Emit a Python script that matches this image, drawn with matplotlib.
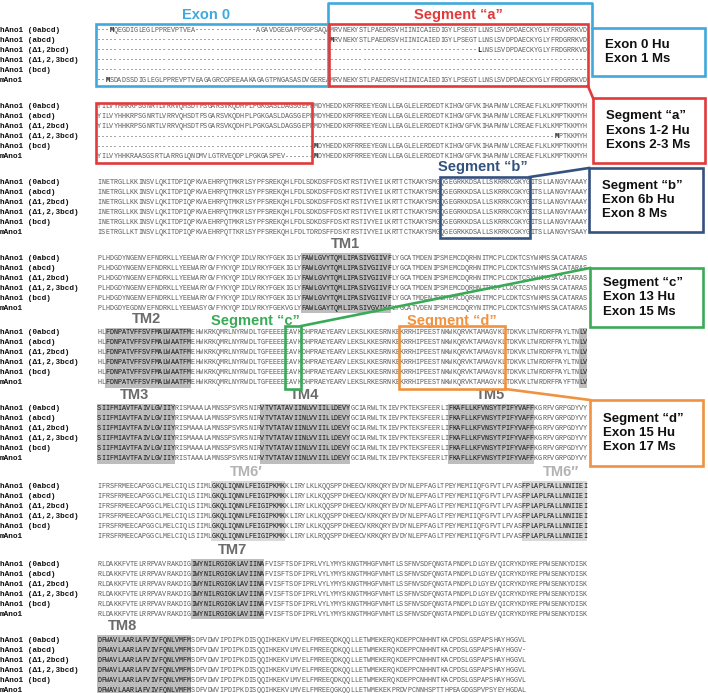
import matplotlib
matplotlib.use("Agg")
import matplotlib.pyplot as plt
from matplotlib.patches import Rectangle

# ---------------- data ----------------
row_labels = ["hAno1 (0abcd)", "hAno1 (abcd)", "hAno1 (\u03941,2bcd)",
              "hAno1 (\u03941,2,3bcd)", "hAno1 (bcd)", "mAno1"]

segA1 = "MRVNEKYSTLPAEDRSVHIINICAIEDIGYLPSEGTLLNSLSVDPDAECKYGLYFRDGRRKVD"
block1 = [
    "---MQEGDIGLEGLPPREVPTVEA---------------AGAVDGEGAPPGGPSAQA" + segA1,
    "-" * 57 + segA1,
    "-" * 93 + "LLNSLSVDPDAECKYGLYFRDGRRKVD",
    "-" * 120,
    "-" * 120,
    "--MSDADSSDIGLEGLPPREVPTVEAGAGRCGPEEAAKAGAGTPNGASASDVGEREA" + segA1,
]
segA2 = "YILVYHHKRPSGNRTLVRRVQHSDTPSGARSVKQDHPLPGKGASLDAGSGEPP"
rest2 = "MDYHEDDKRFRREEYEGNLLEAGLELERDEDTKIHGVGFVKIHAPWNVLCREAEFLKLKMPTKKMYH"
block2 = [
    segA2 + rest2,
    segA2 + rest2,
    segA2 + rest2,
    "-" * 112 + "MPTKKMYH",
    "-" * 53 + rest2,
    "YILVYHHKRAASGSRTLARRGLQNDMVLGTRVEQDPLPGKGASPEV-------" + rest2,
]
h3 = "INETRGLLKKINSVLQKITDPIQPKVAEHRPQTMKRLSYPFSREKQHLFDLSDKDSFFDSKTRSTIVYEILKRTTCTKAKYSMGQGEGRKKDSALLSKRRKCGKYGITSLLANGVYAAAY"
block3 = [h3] * 5 + [
    "ISETRGLLKTINSVLQKITDPIQPKVAEHRPQTTKRLSYPFSREKQHLFDLTDRDSFFDSKTRSTIVYEILKRTTCTKAKYSMGQGEGRKKDSALLSKRRKCGKYGITSLLANGVYSAAY"]
h4 = "PLHDGDYNGENVEFNDRKLLYEEWARYGVFYKYQPIDLVRKYFGEKIGLYFAWLGVYTQMLIPASIVGIIVFLYGCATMDENIPSMEMCDQRHNITMCPLCDKTCSYWKMSSACATARAS"
block4 = [h4] * 5 + [
    "PLHDGDYEGDNVEFNDRKLLYEEWASYGVFYKYQPIDLVRKYFGEKVGLYFAWLGAYTQMLIPASIVGVIVFLYGCATVDENIPSMEMCDQRYNITMCPLCDKTCSYWKMSSACATARAS"]
h5 = "HLFDNPATVFFSVFMALWAATFMEHWKRKQMRLNYRWDLTGFEEEEEAVKDHPRAEYEARVLEKSLKKESRNKEKRRHIPEESTNKWKQRVKTAMAGVKLTDKVKLTWRDRFPAYLTNLV"
block5 = [h5] * 5 + [
    "HLFDNPATVFFSVFMALWAATFMEHWKRKQMRLNYRWDLTGFEEEEEAVKDHPRAEYEARVLEKSLRKESRNKEKRRHIPEESTNKWKQRVKTAMAGVKLTDKVKLTWRDRFPAYFTNLV"]
h6 = "SIIFMIAVTFAIVLGVIIYRISMAAALAMNSSPSVRSNIRVTVTATAVIINLVVIILLDEVYGCIARWLTKIEVPKTEKSFEERLIFKAFLLKFVNSYTPIFYVAFFKGRFVGRPGDYVY"
block6 = [h6] * 5 + [
    "SIIFMIAVTFAIVLGVIIYRISTAAALAMNSSPSVRSNIRVTVTATAVIINLVVIILLDEVYGCIARWLTKIEVPKTEKSFEERLTFKAFLLKFVNSYTPIFYVAFFKGRFVGRPGDYVY"]
h7 = "IFRSFRMEECAPGGCLMELCIQLSIIMLGKQLIQNNLFEIGIPKMKKLIRYLKLKQQSPPDHEECVKRKQRYEVDYNLEPFAGLTPEYMEMIIQFGFVTLFVASFPLAPLFALLNNIIEI"
block7 = [h7] * 5 + [
    "IFRSFRMEECAPGGCLMELCIQLSIIMLGKQLIQNNLFEIGIPKMKKLIRYLKLRQQSPPDHEECVKRKQRYEVDYNLEPFAGLTPEYMEMIIQFGFVTLFVASFPLAPLFALLNNIIEI"]
h8 = "RLDAKKFVTELRRPVAVRAKDIGIWYNILRGIGKLAVIINAFVISFTSDFIPRLVYLYMYSKNGTMHGFVNHTLSSFNVSDFQNGTAPNDPLDLGYEVQICRYKDYREPPWSENKYDISK"
block8 = [h8] * 5 + [
    "RLDAKKFVTELRRPVAVRAKDIGIWYNILRGIGKLAVIINAFVISFTSDFIPRLVYLYMYSKNGTMHGFVNHTLSSFNVSDFQNGTAPNDPLDLGYEVQICRYKDYREPPWSENKYDISK"]
h9 = "DFWAVLAARLAFVIVFQNLVMFMSDFVDWVIPDIPKDISQQIHKEKVLMVELFMREEQDKQQLLETWMEKERQKDEPPCNHHNTKACPDSLGSPAPSHAYHGGVL"
block9 = [h9, h9[:-1] + "-", h9, h9, h9,
          "DFWAVLAARLAFVIVFQNLVMFMSDFVDWVIPDIPKDISQQIHKEKVLMVELFMREEQGKQQLLETWMEKEKPRDVPCNNHSPTTHPEAGDGSPVPSYEYHGDAL"]

blocks = [block1, block2, block3, block4, block5, block6, block7, block8, block9]
block_y = [30, 107, 183, 258, 333, 409, 486, 564, 640]

# bold residues: (block, row, col)
bold_res = [(0, 0, 3), (0, 1, 57), (0, 2, 93), (0, 5, 2),
            (1, 3, 112), (1, 4, 53), (1, 5, 53)]

# transmembrane shading: (block, first col, last col, label, label x)
tm_regions = [
    (3, 50, 71, "TM1", 345),
    (4, 2, 22, "TM2", 147),
    (4, 118, 119, None, None),
    (5, 0, 18, "TM3", 135),
    (5, 40, 61, "TM4", 305),
    (5, 86, 106, "TM5", 490),
    (6, 28, 45, "TM6\u2032", 246),
    (6, 104, 119, "TM6\u2032\u2032", 561),
    (7, 23, 40, "TM7", 233),
    (8, 0, 22, "TM8", 122),
]

# ---------------- drawing ----------------
W, H = 708, 693
fig = plt.figure(figsize=(7.08, 6.93), dpi=100)
ax = fig.add_axes([0, 0, 1, 1])
ax.set_xlim(0, W)
ax.set_ylim(H, 0)
ax.axis("off")

X0, CW, RH = 97.0, 4.083, 10.0
MONO = ["Liberation Mono", "DejaVu Sans Mono"]
SANS = ["Liberation Sans", "DejaVu Sans"]

def colx(c):
    return X0 + c * CW

shaded = set()
for b, s, e, lab, lx in tm_regions:
    y0 = block_y[b] - RH / 2
    light = lab is not None and "\u2032" in lab
    ax.add_patch(Rectangle((colx(s), y0), (e - s + 1) * CW, 6 * RH,
                           facecolor="#d9d9d9" if light else "#bdbdbd",
                           edgecolor="none", zorder=0))
    for c in range(s, e + 1):
        shaded.add((b, c))
    if lab:
        ax.text(lx, block_y[b] - 14, lab, ha="center",
                va="center", fontsize=10.5, fontweight="bold",
                color="#b3b3b3" if light else "#6b6b6b", family=SANS)

bold_set = set(bold_res)
for b, blk in enumerate(blocks):
    for r, seq in enumerate(blk):
        y = block_y[b] + r * RH
        ax.text(0, y, row_labels[r], ha="left", va="center", fontsize=5.6,
                fontweight="bold", family=MONO, color="#111111")
        for c, ch in enumerate(seq):
            isb = (b, r, c) in bold_set
            dark = (b, c) in shaded
            ax.text(colx(c + 0.5), y, ch, ha="center", va="center",
                    fontsize=4.9, family=MONO,
                    fontweight="bold" if isb else "normal",
                    color="#111111" if (isb or dark) else "#5a5a5a")

LW = 1.9
def box(x0, y0, x1, y1, col):
    ax.add_patch(Rectangle((x0, y0), x1 - x0, y1 - y0, fill=False,
                           edgecolor=col, lw=LW, zorder=5))

def line(xs, ys, col):
    ax.plot(xs, ys, color=col, lw=LW, zorder=5, solid_capstyle="projecting")

def callout(x0, y0, x1, y1, col, lines):
    ax.add_patch(Rectangle((x0, y0), x1 - x0, y1 - y0, facecolor="white",
                           edgecolor=col, lw=LW, zorder=5))
    ax.text(x0 + 13, (y0 + y1) / 2, "\n".join(lines), ha="left", va="center",
            fontsize=9.5, fontweight="bold", family=SANS, color="#111111",
            linespacing=1.25, zorder=6)

BLUE, RED, NAVY, GREEN, ORANGE = "#3fa9dd", "#e2393a", "#34527f", "#3aaa57", "#f0923f"

# Exon 0 (blue)
box(colx(0) - 1, 24, colx(56.6), 86, BLUE)
line([colx(56.6), colx(56.6), 592, 592], [24, 3, 3, 28], BLUE)
ax.text(206, 15, "Exon 0", ha="center", va="center", fontsize=10.5,
        fontweight="bold", color=BLUE, family=SANS)
callout(592, 28, 705, 76, BLUE, ["Exon 0 Hu", "Exon 1 Ms"])

# Segment a (red)
box(colx(57) - 1, 24, colx(120) + 1, 86, RED)
box(colx(0) - 1, 103, colx(52.6), 163, RED)
line([colx(120) + 1, 593], [86, 98], RED)
ax.text(458, 15, "Segment \u201ca\u201d", ha="center", va="center",
        fontsize=10.5, fontweight="bold", color=RED, family=SANS)
callout(593, 98, 705, 163, RED, ["Segment \u201ca\u201d", "Exons 1-2 Hu", "Exons 2-3 Ms"])

# Segment b (navy)
box(colx(84), 177, colx(106), 238, NAVY)
line([colx(106), 589], [177, 168], NAVY)
ax.text(483, 167, "Segment \u201cb\u201d", ha="center", va="center",
        fontsize=10.5, fontweight="bold", color=NAVY, family=SANS)
callout(589, 168, 703, 232, NAVY, ["Segment \u201cb\u201d", "Exon 6b Hu", "Exon 8 Ms"])

# Segment c (green)
box(colx(46), 326, colx(50), 389, GREEN)
line([colx(50), 590], [326, 268], GREEN)
ax.text(255, 321, "Segment \u201cc\u201d", ha="center", va="center",
        fontsize=10.5, fontweight="bold", color=GREEN, family=SANS)
callout(590, 268, 703, 327, GREEN, ["Segment \u201cc\u201d", "Exon 13 Hu", "Exon 15 Ms"])

# Segment d (orange)
box(colx(74), 326, colx(100), 389, ORANGE)
line([colx(100), 590], [389, 400], ORANGE)
ax.text(452, 321, "Segment \u201cd\u201d", ha="center", va="center",
        fontsize=10.5, fontweight="bold", color=ORANGE, family=SANS)
callout(590, 400, 703, 466, ORANGE, ["Segment \u201cd\u201d", "Exon 15 Hu", "Exon 17 Ms"])

fig.savefig("out.png", dpi=100)
